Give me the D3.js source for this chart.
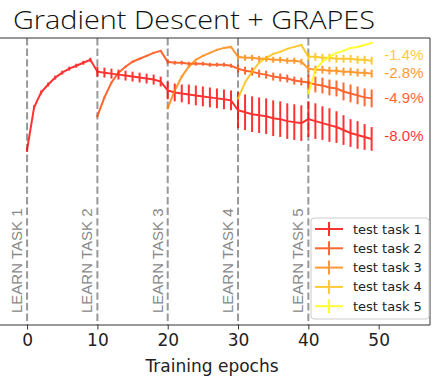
<!DOCTYPE html>
<html>
  <head>
    <script src="https://cdnjs.cloudflare.com/ajax/libs/d3/7.8.5/d3.min.js"></script>
<style>
  body { margin: 0; background: #fff; }
  .tick text { font-family: "DejaVu Sans"; }
</style>
  </head>
  <body>
    <div id="vis"></div>
    <script type="text/javascript">

      // test accuracy (%) per epoch for every task, starting at the epoch the task is learnt
      const starts = [0, 10, 20, 30, 40];
      const task1 = [88.7, 93.0, 94.5, 95.3, 96.0, 96.5, 96.9, 97.2, 97.5, 97.8,
                     96.6, 96.5, 96.4, 96.3, 96.2, 96.1, 96.0, 95.9, 95.8, 95.6,
                     94.7, 94.5, 94.4, 94.3, 94.2, 94.1, 94.0, 93.9, 93.8, 93.7,
                     92.7, 92.5, 92.3, 92.2, 92.1, 91.9, 91.8, 91.6, 91.5, 91.4,
                     91.8, 91.6, 91.4, 91.2, 91.0, 90.7, 90.4, 90.2, 90.0, 89.8];
      const err1  = [0.2, 0.2, 0.2, 0.2, 0.2, 0.2, 0.2, 0.2, 0.2, 0.2,
                     0.5, 0.5, 0.5, 0.5, 0.5, 0.5, 0.5, 0.5, 0.5, 0.5,
                     0.9, 0.9, 0.9, 1.0, 1.0, 1.0, 1.0, 1.0, 1.0, 1.0,
                     1.8, 1.8, 1.8, 1.8, 1.8, 1.8, 1.8, 1.8, 1.8, 1.8,
                     1.8, 1.8, 1.7, 1.7, 1.6, 1.5, 1.4, 1.4, 1.3, 1.2];
      const task2 = [92.1, 94.0, 95.5, 96.5, 97.1, 97.6, 97.9, 98.2, 98.5, 98.7,
                     97.6, 97.5, 97.5, 97.4, 97.4, 97.4, 97.3, 97.3, 97.3, 97.2,
                     96.9, 96.7, 96.6, 96.4, 96.3, 96.1, 96.0, 95.9, 95.7, 95.6,
                     95.5, 95.3, 95.2, 95.0, 94.9, 94.6, 94.4, 94.2, 94.0, 93.9];
      const err2  = [0.1, 0.1, 0.1, 0.1, 0.1, 0.1, 0.1, 0.1, 0.1, 0.1,
                     0.2, 0.2, 0.2, 0.2, 0.2, 0.2, 0.2, 0.2, 0.2, 0.2,
                     0.4, 0.4, 0.4, 0.4, 0.4, 0.4, 0.4, 0.4, 0.4, 0.4,
                     0.8, 0.8, 0.8, 0.8, 0.8, 0.9, 0.9, 0.9, 0.9, 0.9];
      const task3 = [92.9, 94.7, 96.1, 97.1, 97.8, 98.2, 98.5, 98.8, 99.0, 99.1,
                     98.1, 98.0, 98.0, 97.9, 97.9, 97.8, 97.8, 97.7, 97.7, 97.6,
                     96.9, 96.8, 96.8, 96.7, 96.7, 96.6, 96.6, 96.5, 96.5, 96.4];
      const err3  = [0.1, 0.1, 0.1, 0.1, 0.1, 0.1, 0.1, 0.1, 0.1, 0.1,
                     0.3, 0.3, 0.3, 0.3, 0.3, 0.3, 0.3, 0.3, 0.3, 0.3,
                     0.4, 0.4, 0.4, 0.4, 0.4, 0.4, 0.4, 0.4, 0.4, 0.4];
      const task4 = [93.9, 95.5, 96.6, 97.5, 98.0, 98.4, 98.6, 98.9, 99.1, 99.3,
                     98.1, 98.1, 98.0, 98.0, 97.9, 97.9, 97.9, 97.8, 97.8, 97.7];
      const err4  = [0.1, 0.1, 0.1, 0.1, 0.1, 0.1, 0.1, 0.1, 0.1, 0.1,
                     0.4, 0.4, 0.4, 0.4, 0.4, 0.4, 0.4, 0.4, 0.4, 0.4];
      const task5 = [94.4, 96.8, 97.6, 98.1, 98.5, 98.7, 99.0, 99.1, 99.3, 99.5];
      const err5  = [0.1, 0.1, 0.1, 0.1, 0.1, 0.1, 0.1, 0.1, 0.1, 0.1];

      const seriesNames = ["test task 1", "test task 2", "test task 3", "test task 4", "test task 5"];
      const colors = ["#ff0000", "#ff4000", "#ff8000", "#ffbf00", "#ffff00"];
      const learnLabels = ["LEARN TASK 1", "LEARN TASK 2", "LEARN TASK 3", "LEARN TASK 4", "LEARN TASK 5"];
      const forgetLabels = ["-8.0%", "-4.9%", "-2.8%", "-1.4%"];
      const forgetAt = [90.1, 94.0, 96.5, 98.3];   // accuracy where the labels sit
      const xTicks = [0, 10, 20, 30, 40, 50];

      const means = [task1, task2, task3, task4, task5];
      const errs = [err1, err2, err3, err4, err5];

      const w = 434, h = 377;
      const pLeft = 0, pRight = 430, pTop = 38, pBottom = 325;

      const svg = d3.select("#vis").append("svg")
          .attr("width", w).attr("height", h);

      const xScale = d3.scaleLinear().domain([-3.85, 57.3]).range([pLeft, pRight]);
      const yScale = d3.scaleLinear().domain([71, 100]).range([pBottom, pTop]);

      // title
      svg.append("text")
          .attr("x", 13).attr("y", 29)
          .attr("font-family", "Open Sans").attr("font-weight", 300)
          .attr("font-size", 25).attr("fill", "#111")
          .attr("textLength", 362).attr("lengthAdjust", "spacingAndGlyphs")
          .text("Gradient Descent + GRAPES");

      // dashed task boundaries
      svg.append("g").selectAll("line")
          .data(starts).join("line")
          .attr("x1", d => xScale(d)).attr("x2", d => xScale(d))
          .attr("y1", pTop).attr("y2", pBottom)
          .attr("stroke", "#999").attr("stroke-width", 2)
          .attr("stroke-dasharray", "7.4,3.2");

      svg.append("g").selectAll("text")
          .data(starts).join("text")
          .attr("transform", d => "translate(" + (xScale(d) - 5) + "," + (pBottom - 12) + ") rotate(-90)")
          .attr("font-family", "Liberation Sans").attr("font-size", 15)
          .attr("fill", "#888")
          .text((d, i) => learnLabels[i]);

      // series
      const plot = svg.append("g");
      means.forEach((m, k) => {
          const pts = m.map((v, i) => ({ x: starts[k] + i, y: v, e: errs[k][i] }));
          const g = plot.append("g").attr("opacity", 0.8);
          g.selectAll("line")
              .data(pts).join("line")
              .attr("x1", d => xScale(d.x)).attr("x2", d => xScale(d.x))
              .attr("y1", d => yScale(d.y - d.e)).attr("y2", d => yScale(d.y + d.e))
              .attr("stroke", colors[k]).attr("stroke-width", 2);
          g.append("path")
              .datum(pts)
              .attr("fill", "none")
              .attr("stroke", colors[k])
              .attr("stroke-width", 2)
              .attr("d", d3.line().x(d => xScale(d.x)).y(d => yScale(d.y)));
      });

      // forgetting labels
      svg.append("g").selectAll("text")
          .data(forgetLabels).join("text")
          .attr("x", xScale(50.8))
          .attr("y", (d, i) => yScale(forgetAt[i]))
          .attr("dy", "0.35em")
          .attr("font-family", "Liberation Sans").attr("font-size", 15)
          .attr("fill", (d, i) => colors[i]).attr("opacity", 0.8)
          .text(d => d);

      // frame
      svg.append("g").selectAll("line")
          .data([[pLeft, pTop, pRight, pTop], [pRight, pTop, pRight, pBottom], [pLeft, pBottom, pRight, pBottom]])
          .join("line")
          .attr("x1", d => d[0]).attr("y1", d => d[1])
          .attr("x2", d => d[2]).attr("y2", d => d[3])
          .attr("stroke", "#333").attr("stroke-width", 1);

      // x axis
      const xAxis = d3.axisBottom(xScale).tickValues(xTicks).tickSize(4.5).tickPadding(4);
      const ax = svg.append("g")
          .attr("transform", "translate(0," + pBottom + ")")
          .call(xAxis);
      ax.select(".domain").remove();
      ax.selectAll("text").attr("font-size", 17).attr("fill", "#222");
      ax.selectAll("line").attr("stroke", "#333");

      svg.append("text")
          .attr("x", 212).attr("y", 372)
          .attr("text-anchor", "middle")
          .attr("font-family", "DejaVu Sans").attr("font-size", 17)
          .attr("fill", "#222")
          .text("Training epochs");

      // legend
      const lg = svg.append("g").attr("transform", "translate(311,218)");
      lg.append("rect")
          .attr("width", 118).attr("height", 101)
          .attr("rx", 3)
          .attr("fill", "#fff").attr("fill-opacity", 0.8)
          .attr("stroke", "#ccc");
      const items = lg.selectAll("g.item")
          .data(seriesNames).join("g")
          .attr("class", "item")
          .attr("opacity", 0.8)
          .attr("transform", (d, i) => "translate(0," + (11 + i * 19.3) + ")");
      items.append("line")
          .attr("x1", 4).attr("x2", 32)
          .attr("stroke", (d, i) => colors[i]).attr("stroke-width", 2);
      items.append("line")
          .attr("x1", 18).attr("x2", 18).attr("y1", -7).attr("y2", 7)
          .attr("stroke", (d, i) => colors[i]).attr("stroke-width", 2);
      lg.selectAll("text")
          .data(seriesNames).join("text")
          .attr("x", 42)
          .attr("y", (d, i) => 11 + i * 19.3)
          .attr("dy", "0.35em")
          .attr("font-family", "DejaVu Sans").attr("font-size", 13)
          .attr("fill", "#222")
          .text(d => d);
    </script>
  </body>
</html>
